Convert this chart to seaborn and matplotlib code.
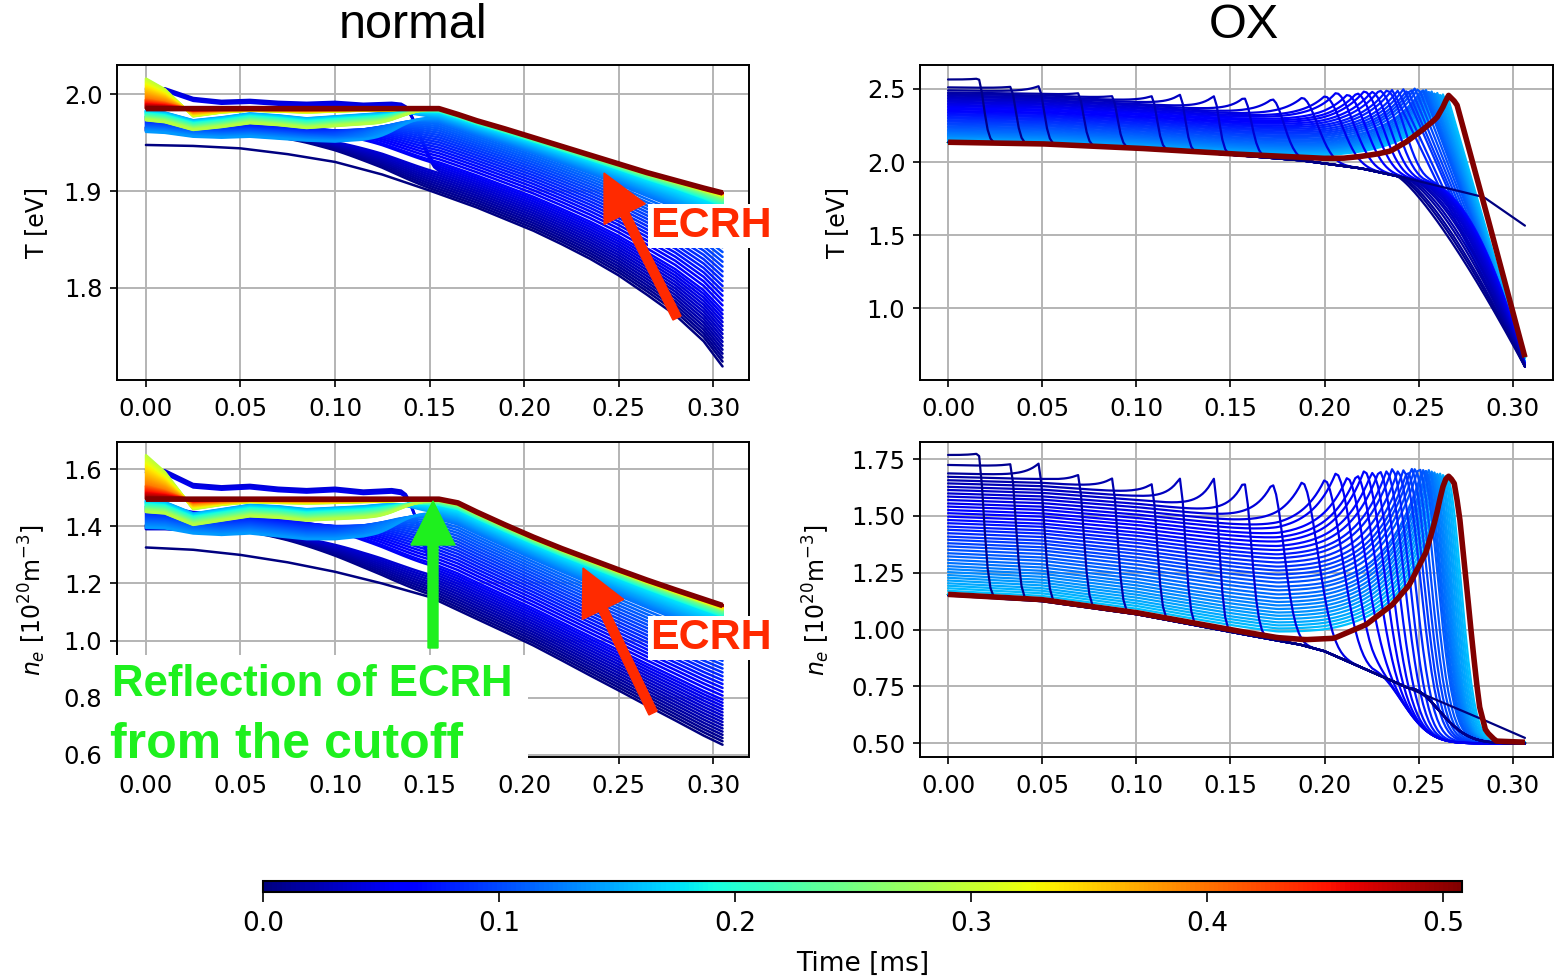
import numpy as np
import pandas as pd
import matplotlib
matplotlib.use("Agg")
import matplotlib.pyplot as plt
import seaborn as sns
from matplotlib.patches import FancyArrow, Rectangle
from matplotlib.transforms import IdentityTransform
from matplotlib.colors import Normalize
from matplotlib.cm import ScalarMappable

# ======================= data =======================
time_step_ms = 0.004
n_curves = 128                      # t = 0 ... 0.508 ms
t_max_ms = 0.508
time_ms = np.arange(n_curves) * time_step_ms

# ---------- "normal" case: initial / final radial profiles ----------
norm_x = [0.0, 0.025, 0.05, 0.075, 0.10, 0.125, 0.15, 0.155, 0.165, 0.175, 0.19,
          0.205, 0.22, 0.235, 0.25, 0.265, 0.28, 0.295, 0.305]
norm_T_initial = [1.9475, 1.9465, 1.944, 1.938, 1.930, 1.917, 1.9005, 1.897, 1.890,
                  1.883, 1.871, 1.859, 1.845, 1.830, 1.813, 1.793, 1.772, 1.745, 1.719]
norm_T_final = [1.985, 1.985, 1.985, 1.985, 1.985, 1.985, 1.985, 1.985, 1.979,
                1.9725, 1.964, 1.955, 1.946, 1.937, 1.928, 1.919, 1.911, 1.903, 1.898]
norm_ne_initial = [1.326, 1.318, 1.300, 1.274, 1.241, 1.200, 1.153, 1.138, 1.107,
                   1.076, 1.030, 0.983, 0.931, 0.878, 0.826, 0.773, 0.721, 0.668, 0.636]
norm_ne_final = [1.495, 1.495, 1.495, 1.495, 1.495, 1.495, 1.495, 1.495, 1.482,
                 1.450, 1.405, 1.362, 1.322, 1.285, 1.248, 1.212, 1.178, 1.145, 1.123]

# value at the outer edge (x = 0.305) versus time, and sharpness of the knee
norm_end_t = [0.0, 0.004, 0.056, 0.12, 0.18, 0.26, 0.32, 0.40, 0.508]
norm_T_end = [1.719, 1.724, 1.777, 1.857, 1.884, 1.893, 1.896, 1.898, 1.898]
norm_ne_end = [0.636, 0.648, 0.794, 1.011, 1.084, 1.108, 1.115, 1.123, 1.123]
norm_knee_sharpness = [1.0, 1.0, 1.1, 1.5, 2.0, 2.5, 3.0, 3.0, 3.0]

# core band (x < 0.155) of the normal case, by colour group:
# navy, dark-blue top line, blue, cyan/green, yellow/orange, red
core_x = [0.0, 0.01, 0.025, 0.04, 0.055, 0.07, 0.085, 0.10, 0.115, 0.13, 0.145, 0.155]
band_last_k = [9, 12, 35, 72, 100, 127]
band_hold_x = [(0.02, 0.04), (0.135, 0.135), (0.05, 0.12), (0.12, 0.12), (0.12, 0.12), (0.12, 0.12)]
T_band_navy = [1.966, 1.966, 1.965, 1.964, 1.963, 1.962, 1.962, 1.961, 1.962, 1.964, 1.968, 1.972]
T_band_top = [2.006, 2.006, 1.996, 1.993, 1.994, 1.992, 1.991, 1.992, 1.990, 1.991, 1.988, 1.986]
T_band_blue = [1.975, 1.974, 1.970, 1.969, 1.970, 1.968, 1.966, 1.965, 1.967, 1.972, 1.979, 1.984]
T_band_green = [1.978, 1.976, 1.968, 1.971, 1.975, 1.973, 1.970, 1.972, 1.974, 1.976, 1.980, 1.984]
T_band_yellow = [2.016, 2.005, 1.977, 1.981, 1.983, 1.982, 1.981, 1.982, 1.983, 1.983, 1.984, 1.985]
T_band_offset = [(0.0, -0.004), (0.0, -0.003), (0.002, -0.014), (0.005, -0.005), (0.0, 0.0), (0.0, 0.0)]
ne_band_navy = [1.405, 1.405, 1.400, 1.398, 1.395, 1.392, 1.390, 1.388, 1.390, 1.400, 1.420, 1.440]
ne_band_top = [1.600, 1.596, 1.548, 1.540, 1.545, 1.535, 1.530, 1.535, 1.525, 1.530, 1.515, 1.500]
ne_band_blue = [1.460, 1.458, 1.440, 1.435, 1.440, 1.430, 1.420, 1.420, 1.430, 1.450, 1.475, 1.492]
ne_band_green = [1.470, 1.465, 1.425, 1.440, 1.455, 1.450, 1.440, 1.445, 1.450, 1.460, 1.475, 1.490]
ne_band_yellow = [1.649, 1.590, 1.460, 1.475, 1.485, 1.482, 1.480, 1.482, 1.485, 1.487, 1.490, 1.495]
ne_band_offset = [(0.0, -0.015), (0.0, -0.012), (0.010, -0.065), (0.020, -0.020), (0.0, 0.0), (0.0, 0.0)]
band_scale = [(1, 1), (1, 1), (1, 1), (1, 1), (1.0, 0.3), (0.3, 0.0)]

# ---------- "OX" case ----------
ox_init_x = [0.0, 0.05, 0.10, 0.15, 0.187, 0.20, 0.22, 0.24, 0.27, 0.2845, 0.3064]
ox_ne_initial = [1.150, 1.125, 1.068, 0.990, 0.934, 0.905, 0.832, 0.759, 0.654, 0.603, 0.524]
ox_T_initial = [2.135, 2.124, 2.095, 2.050, 2.012, 1.990, 1.955, 1.900, 1.805, 1.760, 1.565]

ox_ne_final_x = [0.0, 0.05, 0.10, 0.15, 0.175, 0.19, 0.205, 0.222, 0.236, 0.245, 0.254,
                 0.259, 0.2625, 0.2652, 0.2687, 0.2714, 0.275, 0.2785, 0.282, 0.2856, 0.291, 0.3064]
ox_ne_final = [1.155, 1.132, 1.075, 1.000, 0.965, 0.956, 0.962, 1.022, 1.110, 1.197, 1.343,
               1.490, 1.621, 1.680, 1.650, 1.519, 1.228, 0.934, 0.671, 0.554, 0.510, 0.505]
ox_T_final_x = [0.0, 0.05, 0.10, 0.15, 0.20, 0.21, 0.2186, 0.228, 0.235, 0.2436, 0.252,
                0.2595, 0.263, 0.2657, 0.2701, 0.2843, 0.3064]
ox_T_final = [2.135, 2.124, 2.095, 2.056, 2.025, 2.026, 2.037, 2.055, 2.075, 2.139, 2.220,
              2.300, 2.380, 2.457, 2.400, 1.730, 0.665]

ox_core_x = [0.0, 0.05, 0.10, 0.15, 0.175, 0.20, 0.25, 0.3064]
ox_ne_core = [1.155, 1.132, 1.075, 1.000, 0.965, 0.955, 0.952, 0.950]
ox_T_core = [2.135, 2.124, 2.095, 2.056, 2.040, 2.025, 2.020, 2.015]

# per-curve front position, level at x=0 and peak height (curves 1..40)
ox_front = [0.016, 0.033, 0.048, 0.069, 0.087, 0.108, 0.123, 0.141, 0.157, 0.172,
            0.188, 0.200, 0.206, 0.212, 0.217, 0.221, 0.225, 0.229, 0.233, 0.236,
            0.239, 0.242, 0.244, 0.246, 0.248, 0.250, 0.252, 0.253, 0.254, 0.255,
            0.256, 0.257, 0.258, 0.259, 0.260, 0.261, 0.262, 0.263, 0.264, 0.265]
ox_ne_level = [1.767, 1.724, 1.687, 1.672, 1.657, 1.643, 1.628, 1.614, 1.599, 1.585,
               1.570, 1.555, 1.541, 1.526, 1.512, 1.497, 1.482, 1.468, 1.453, 1.439,
               1.424, 1.409, 1.395, 1.380, 1.366, 1.351, 1.336, 1.322, 1.307, 1.293,
               1.279, 1.266, 1.253, 1.240, 1.228, 1.216, 1.204, 1.193, 1.182, 1.171]
ox_ne_peak = [1.750, 1.720, 1.730, 1.680, 1.665, 1.640, 1.665, 1.665, 1.650, 1.640,
              1.650, 1.660, 1.690, 1.670, 1.680, 1.700, 1.690, 1.700, 1.700, 1.710,
              1.700, 1.705, 1.700, 1.710, 1.710, 1.715, 1.705, 1.710, 1.700, 1.705,
              1.700, 1.700, 1.695, 1.695, 1.690, 1.690, 1.685, 1.685, 1.680, 1.680]
ox_T_level = [2.563, 2.510, 2.490, 2.475, 2.465, 2.454, 2.444, 2.433, 2.423, 2.412,
              2.402, 2.391, 2.381, 2.370, 2.360, 2.349, 2.339, 2.328, 2.318, 2.307,
              2.297, 2.286, 2.276, 2.265, 2.255, 2.244, 2.234, 2.224, 2.214, 2.205,
              2.196, 2.188, 2.180, 2.173, 2.166, 2.160, 2.154, 2.149, 2.144, 2.140]
ox_T_peak = [2.550, 2.500, 2.518, 2.470, 2.450, 2.450, 2.460, 2.450, 2.440, 2.430,
             2.440, 2.450, 2.473, 2.460, 2.470, 2.484, 2.480, 2.490, 2.490, 2.495,
             2.490, 2.500, 2.495, 2.500, 2.505, 2.507, 2.500, 2.500, 2.495, 2.490,
             2.490, 2.485, 2.480, 2.480, 2.475, 2.470, 2.470, 2.465, 2.460, 2.460]
ox_T_tail_end = [0.600, 0.630]      # spread of end values of the T fan
ox_ne_floor = 0.50

cbar_ticks = [0.0, 0.1, 0.2, 0.3, 0.4, 0.5]
col_titles = ["normal", "OX"]

# ======================= build the curve families =======================
xg_n = np.linspace(0.0, 0.305, 123)
xg_o = np.linspace(0.0, 0.3064, 205)


def group_of(k):
    for gi, last in enumerate(band_last_k):
        if k <= last:
            first = 1 if gi == 0 else band_last_k[gi - 1] + 1
            frac = 0.0 if last == first else (k - first) / (last - first)
            return gi, frac
    return len(band_last_k) - 1, 1.0


def normal_family(init_v, final_v, end_v, bands, offsets):
    I = np.interp(xg_n, norm_x, init_v)
    F = np.interp(xg_n, norm_x, final_v)
    g = np.clip((F - I) / (F[-1] - I[-1]), 0, None)
    out = [I]
    for k in range(1, n_curves):
        t = time_ms[k]
        d = F[-1] - np.interp(t, norm_end_t, end_v)
        gi, frac = group_of(k)
        p = np.interp(t, norm_end_t, norm_knee_sharpness)
        E = F - d * g ** p
        B0 = np.interp(xg_n, core_x, bands[gi])
        s0, s1 = band_scale[gi]
        o0, o1 = offsets[gi]
        B = F + (B0 - F) * (s0 + (s1 - s0) * frac) + (o0 + (o1 - o0) * frac)
        a0, a1 = band_hold_x[gi]
        a = a0 + (a1 - a0) * frac
        u = np.clip((xg_n - a) / (0.155 - a), 0, 1)
        h = 0.5 * (1 + np.cos(np.pi * u))
        out.append(E + h * (B - E))
    return out, F


def ox_family(levels, peaks, core_v, init_v, final_x, final_v, kind):
    core = np.interp(xg_o, ox_core_x, core_v)
    init = np.interp(xg_o, ox_init_x, init_v)
    fin = np.interp(xg_o, final_x, final_v)
    L1, Lf = levels[0], fin[0]
    x_end = xg_o[-1]
    n_fam = len(ox_front)
    bmin = 0.4 if kind == "ne" else 0.85
    out = [init]
    for k in range(1, n_curves):
        if k > n_fam:
            out.append(fin)
            continue
        i = k - 1
        r = i / (n_fam - 1)
        xf, L, P = ox_front[i], levels[i], peaks[i]
        beta = np.clip(1 - (1 - bmin) * (L - Lf) / (L1 - Lf), bmin, 1.0)
        pre = L + (core - core[0]) * beta
        s = np.clip((xf - 0.15) / 0.11, 0, 1)
        lam = 0.007 + 0.013 * s
        sig = 0.004 + 0.0065 * s + 0.006 * np.sin(np.pi * s)
        pre_f = np.interp(xf, xg_o, pre)
        P = max(P, pre_f + 0.01)
        y = np.empty_like(xg_o)
        left = xg_o < xf
        right = ~left
        y[left] = pre[left] + (P - pre_f) * np.exp(-(xf - xg_o[left]) / lam)
        if kind == "ne":
            knee = 0.245 if xf < 0.2 else float(np.clip(xf - 0.01, 0.225, 0.245))
            ik = np.interp(knee, xg_o, init)
            post = np.where(xg_o <= knee, init,
                            ox_ne_floor + (ik - ox_ne_floor) * np.exp(-((xg_o - knee) / 0.022) ** 2))
            post_f = np.interp(xf, xg_o, post)
            y[right] = post[right] + (P - post_f) * np.exp(-((xg_o[right] - xf) / sig) ** 2)
        else:
            t_end = ox_T_tail_end[0] + (ox_T_tail_end[1] - ox_T_tail_end[0]) * r
            if xf < 0.235:
                knee = 0.237 + 0.016 * xf / 0.235
                q = 1.2 + 0.8 * xf / 0.235
                ik = np.interp(knee, xg_o, init)
                uu = np.clip((xg_o - knee) / (x_end - knee), 0, 1)
                post = np.where(xg_o <= knee, init, ik + (t_end - ik) * uu ** q)
                post_f = np.interp(xf, xg_o, post)
                y[right] = post[right] + (P - post_f) * np.exp(-((xg_o[right] - xf) / sig) ** 2)
            else:
                y[right] = P + (t_end - P) * (xg_o[right] - xf) / (x_end - xf)
        out.append(y)
    return out, fin


T_bands = [T_band_navy, T_band_top, T_band_blue, T_band_green, T_band_yellow, T_band_yellow]
ne_bands = [ne_band_navy, ne_band_top, ne_band_blue, ne_band_green, ne_band_yellow, ne_band_yellow]

nT_curves, nT_final = normal_family(norm_T_initial, norm_T_final, norm_T_end, T_bands, T_band_offset)
nn_curves, nn_final = normal_family(norm_ne_initial, norm_ne_final, norm_ne_end, ne_bands, ne_band_offset)
oT_curves, oT_final = ox_family(ox_T_level, ox_T_peak, ox_T_core, ox_T_initial, ox_T_final_x, ox_T_final, "T")
on_curves, on_final = ox_family(ox_ne_level, ox_ne_peak, ox_ne_core, ox_ne_initial, ox_ne_final_x, ox_ne_final, "ne")


def to_frame(xg, curves):
    return pd.DataFrame({
        "x": np.tile(xg, len(curves)),
        "y": np.concatenate(curves),
        "t": np.repeat(time_ms[:len(curves)], len(xg)),
    })


# ======================= figure =======================
sns.set_style("whitegrid")
plt.rcParams["font.family"] = ["DejaVu Sans"]
plt.rcParams.update({
    "axes.edgecolor": "black", "axes.linewidth": 1.4,
    "xtick.bottom": True, "ytick.left": True,
    "xtick.major.size": 5, "ytick.major.size": 5,
    "xtick.major.width": 1.2, "ytick.major.width": 1.2,
    "xtick.color": "black", "ytick.color": "black",
    "text.color": "black", "axes.labelcolor": "black",
})

W, H = 1561, 976
fig = plt.figure(figsize=(W / 100, H / 100), dpi=100)


def rect(l, t, r, b):
    return [l / W, 1 - b / H, (r - l) / W, (b - t) / H]


ax_nT = fig.add_axes(rect(117, 65, 749, 380))
ax_oT = fig.add_axes(rect(920, 65, 1553, 380))
ax_nn = fig.add_axes(rect(117, 442, 749, 757))
ax_on = fig.add_axes(rect(920, 442, 1553, 757))

cmap = plt.get_cmap("jet")
hue_norm = Normalize(0.0, t_max_ms)

panels = [
    (ax_nT, xg_n, nT_curves, nT_final, (-0.0153, 0.319), (1.705, 2.030), [1.8, 1.9, 2.0], "T [eV]", 1.8, 11, False),
    (ax_nn, xg_n, nn_curves, nn_final, (-0.0153, 0.319), (0.593, 1.695), [0.6, 0.8, 1.0, 1.2, 1.4, 1.6],
     r"$n_e$ [$10^{20}$m$^{-3}$]", 1.8, 11, False),
    (ax_oT, xg_o, oT_curves, oT_final, (-0.0149, 0.3213), (0.51, 2.663), [1.0, 1.5, 2.0, 2.5], "T [eV]",
     1.6, 13, True),
    (ax_on, xg_o, on_curves, on_final, (-0.0149, 0.3213), (0.44, 1.825), [0.5, 0.75, 1.0, 1.25, 1.5, 1.75],
     r"$n_e$ [$10^{20}$m$^{-3}$]", 1.6, 14, True),
]

for ax, xg, curves, final, xl, yl, yt, ylab, lw, lpad, early_on_top in panels:
    df = to_frame(xg, curves)
    sns.lineplot(data=df, x="x", y="y", hue="t", palette=cmap, hue_norm=hue_norm,
                 estimator=None, sort=False, legend=False, linewidth=lw, ax=ax)
    if early_on_top:
        lines = ax.get_lines()
        nl = len(lines)
        for idx, ln in enumerate(lines):
            ln.set_zorder(2.0 + (nl - idx) / (10.0 * nl))
    ax.plot(xg, final, color=cmap(1.0), lw=4.0, solid_capstyle="butt", zorder=5)
    ax.set_xlim(*xl)
    ax.set_ylim(*yl)
    ax.set_xticks([0.0, 0.05, 0.10, 0.15, 0.20, 0.25, 0.30])
    ax.set_xticklabels(["0.00", "0.05", "0.10", "0.15", "0.20", "0.25", "0.30"])
    ax.set_yticks(yt)
    ax.set_xlabel("")
    ax.set_ylabel(ylab, fontsize=17, labelpad=lpad)
    ax.tick_params(labelsize=17.5)
    ax.tick_params(axis="x", pad=7)
    ax.tick_params(axis="y", pad=5.5)
    ax.grid(True, color="#b4b4b4", linewidth=1.4)
    for sp in ax.spines.values():
        sp.set_color("black")
        sp.set_linewidth(1.4)

ax_nT.set_yticklabels(["1.8", "1.9", "2.0"])
ax_nn.set_yticklabels(["0.6", "0.8", "1.0", "1.2", "1.4", "1.6"])
ax_oT.set_yticklabels(["1.0", "1.5", "2.0", "2.5"])
ax_on.set_yticklabels(["0.50", "0.75", "1.00", "1.25", "1.50", "1.75"])

# column titles
fig.text(413 / W, 1 - 25 / H, col_titles[0], ha="center", va="center", fontsize=35,
         family=["Liberation Sans", "DejaVu Sans"])
fig.text(1244 / W, 1 - 25 / H, col_titles[1], ha="center", va="center", fontsize=35,
         family=["Liberation Sans", "DejaVu Sans"])

# colour bar
cax = fig.add_axes(rect(263, 881, 1462, 892))
cb = fig.colorbar(ScalarMappable(norm=hue_norm, cmap=cmap), cax=cax, orientation="horizontal")
cb.set_ticks(cbar_ticks)
cb.ax.tick_params(labelsize=19, length=7, width=1.2, pad=7)
cb.set_label("Time [ms]", fontsize=19, labelpad=10)
cb.outline.set_linewidth(1.5)
cb.outline.set_edgecolor("black")

# annotations (pixel coordinates, y measured from the top)
red = "#ff2a00"
green = "#1ef01e"
idt = IdentityTransform()


def arrow(tail, tip, color, width, hw, hl):
    x0, y0 = tail[0], H - tail[1]
    x1, y1 = tip[0], H - tip[1]
    a = FancyArrow(x0, y0, x1 - x0, y1 - y0, width=width, head_width=hw, head_length=hl,
                   length_includes_head=True, color=color, transform=idt, zorder=10)
    fig.add_artist(a)


arrow((677, 318), (604, 173), red, 9, 46, 46)
arrow((653, 713), (583, 568), red, 9, 46, 46)
arrow((433, 648), (433, 501), green, 10, 44, 44)

for cy in (226, 638):
    fig.text(711 / W, 1 - cy / H, "ECRH", color=red, fontsize=31, fontweight="bold",
             family=["Liberation Sans", "DejaVu Sans"], ha="center", va="center", zorder=12,
             bbox=dict(facecolor="white", edgecolor="none", pad=1.5))

fig.add_artist(Rectangle((108, H - 768), 420, 113, facecolor="white", edgecolor="none",
                         transform=idt, zorder=11))
fig.text(112 / W, 1 - 684 / H, "Reflection of ECRH", color=green, fontsize=31.5,
         fontweight="bold", family=["Liberation Sans", "DejaVu Sans"], ha="left", va="center", zorder=12)
fig.text(110 / W, 1 - 745 / H, "from the cutoff", color=green, fontsize=36,
         fontweight="bold", family=["Liberation Sans", "DejaVu Sans"], ha="left", va="center", zorder=12)

fig.savefig("out.png", dpi=100)
